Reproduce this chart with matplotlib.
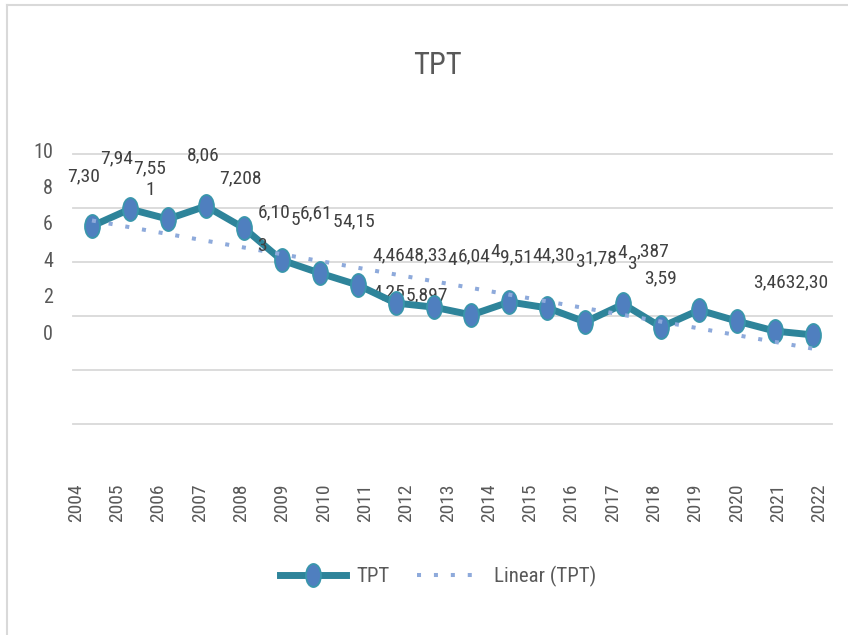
import matplotlib
matplotlib.use('Agg')
import matplotlib.pyplot as plt
import numpy as np
from matplotlib.path import Path
from matplotlib.lines import Line2D
from matplotlib import font_manager as fm

# ---------------- data ----------------
years = [str(y) for y in range(2004, 2023)]
tpt = [7.33, 7.96, 7.59, 8.07, 7.26, 6.07, 5.59, 5.15, 4.48, 4.33,
       4.04, 4.52, 4.30, 3.78, 4.44, 3.59, 4.22, 3.81, 3.44, 3.30]
y_tick_labels = ["10", "8", "6", "4", "2", "0"]

# data-label fragments as they appear (overlapping Excel labels), grouped in runs
label_groups = [
    ["7,30", "7,94", "7,55"],
    ["1"],
    ["8,06", "7,208"],
    ["6,10", "5", "6,61", "5", "4,15"],
    ["3"],
    ["4,4648,33", "4", "6,04", "4", "9,51", "44,30", "3", "1,78", "4", "3", ",387"],
    ["4,25", "5,897"],
    ["3,59"],
    ["3,4632,30"],
]
group_point = [0, 2, 3, 5, 5, 8, 8, 15, 19]

# layout of the runs: start offset (px) from the anchor point, vertical offsets per fragment
group_dx = [-25, -22, -19, -24, -25, -23, -23, -17, -60]
group_dy = [
    [50, 68, 58],
    [29],
    [51, 28],
    [48, 40, 47, 38, 39],
    [14],
    [48, 43, 47, 51, 46, 48, 41, 45, 50, 39, 52],
    [11, 8],
    [49],
    [53],
]
behind_groups = {6}

# ---------------- fonts ----------------
names = {f.name for f in fm.fontManager.ttflist}
font = 'Liberation Sans'
for n in ['Roboto Condensed', 'Liberation Sans Narrow', 'DejaVu Sans Condensed']:
    if n in names:
        font = n
        break
plt.rcParams['font.family'] = [font, 'DejaVu Sans']

W, H = 848, 635
fig = plt.figure(figsize=(W / 100, H / 100), dpi=100)
fig.patch.set_facecolor('white')


def fx(x):
    return x / W


def fy(y):
    return 1 - y / H


text_color = '#595959'
label_color = '#404040'

# outer border
fig.add_artist(Line2D([fx(7), fx(7)], [0, fy(5)], transform=fig.transFigure,
                      color='#D9D9D9', lw=1.5))
fig.add_artist(Line2D([fx(7), 1], [fy(5), fy(5)], transform=fig.transFigure,
                      color='#D9D9D9', lw=1.5))

# title
fig.text(fx(437), fy(65), "TPT", ha='center', va='center', fontsize=22,
         color=text_color)

ax = fig.add_axes([fx(73), fy(424), (832 - 73) / W, (424 - 154) / H])
ax.set_xlim(-0.5, 19.5)
ax.set_ylim(0, 10)
ax.set_yticks(range(0, 11, 2))
ax.set_xticks([])
ax.tick_params(axis='y', length=0, labelleft=False)
for s in ax.spines.values():
    s.set_visible(False)
ax.grid(axis='y', color='#D9D9D9', lw=1.3)
for gl in ax.get_ygridlines():
    gl.set_clip_on(False)

x = np.arange(len(tpt))
circ = Path.unit_circle()
ell = Path(circ.vertices * np.array([0.65, 1.0]), circ.codes)

line_color = '#2E849A'
marker_face = '#4F7FBF'
marker_edge = '#3A96AC'
ax.plot(x, tpt, color=line_color, lw=5, marker=ell, ms=16.6,
        mfc=marker_face, mec=marker_edge, mew=1.3, zorder=3, clip_on=False)

coef = np.polyfit(x, tpt, 1)
trend_color = '#8EAADB'
ax.plot(x, np.polyval(coef, x), color=trend_color, lw=2.9,
        ls=(0, (1, 3.2)), dash_capstyle='butt', zorder=4, clip_on=False)

# data labels: each run laid out left to right, measured so pieces sit side by side
renderer = fig.canvas.get_renderer()
for g, frags in enumerate(label_groups):
    p = group_point[g]
    cur = group_dx[g]
    for t, dy in zip(frags, group_dy[g]):
        ann = ax.annotate(t, xy=(x[p], tpt[p]), xytext=(cur, dy),
                          textcoords='offset pixels', ha='left', va='center',
                          fontsize=14, color=label_color,
                          zorder=1 if g in behind_groups else 5,
                          annotation_clip=False)
        cur += ann.get_window_extent(renderer).width

# y tick labels (placed as in the reference)
for k, t in enumerate(y_tick_labels):
    fig.text(fx(53), fy(152 + 36.4 * k), t, ha='right', va='center',
             fontsize=14.5, color=text_color)

# x tick labels
for j, t in enumerate(years):
    fig.text(fx(76 + 41.3 * j), fy(483), t, rotation=90, ha='center', va='top',
             fontsize=14, color=text_color)

handles = [Line2D([], [], color=line_color, lw=5, marker=ell, ms=16.6,
                  mfc=marker_face, mec=marker_edge, mew=1.3),
           Line2D([], [], color=trend_color, lw=2.9, ls=(0, (1, 3.2)),
                  dash_capstyle='butt')]
fig.legend(handles, ['TPT', 'Linear (TPT)'], loc='center',
           bbox_to_anchor=(fx(438), fy(576)), ncol=2, frameon=False,
           fontsize=15, handlelength=3.2, columnspacing=1.3,
           handletextpad=0.5, labelcolor=text_color)

fig.savefig('out.png', dpi=100)
